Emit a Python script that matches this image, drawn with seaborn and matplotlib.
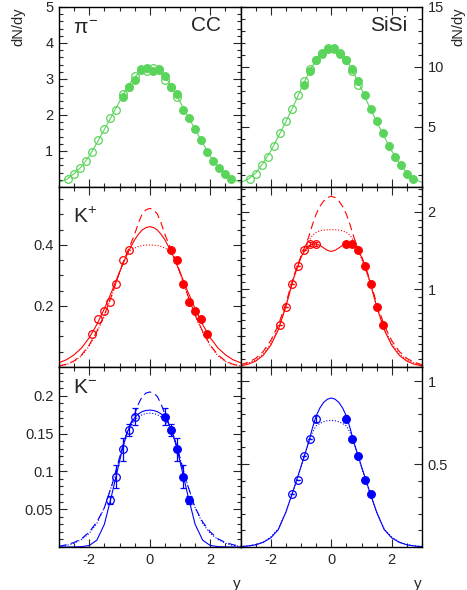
"""
Rapidity distributions of pi-, K+ and K- for CC and SiSi.
"""

import numpy as np
import matplotlib
matplotlib.use("Agg")
import matplotlib.pyplot as plt
from matplotlib.ticker import MultipleLocator
import seaborn as sns

# rapidity grid of the model curves (y >= 0 half, curves are symmetric)
y_half = [0.0, 0.125, 0.25, 0.375, 0.5, 0.625, 0.75, 0.875, 1.0,
          1.25, 1.5, 1.75, 2.0, 2.25, 2.5, 2.75, 3.0]

# pi-  (filled = measured, open = reflected around y = 0)
pi_y = [-0.9, -0.7, -0.5, -0.3, -0.1, 0.1, 0.3, 0.5, 0.7, 0.9,
        1.1, 1.3, 1.5, 1.7, 1.9, 2.1, 2.3, 2.5, 2.7]
pi_cc = [2.49, 2.79, 2.97, 3.25, 3.31, 3.22, 3.27, 3.08, 2.79, 2.58,
         2.14, 1.93, 1.60, 1.31, 0.97, 0.73, 0.54, 0.37, 0.22]
pi_sisi = [8.5, 9.7, 10.6, 11.15, 11.5, 11.6, 11.1, 10.6, 9.85, 8.8,
           7.65, 6.5, 5.5, 4.5, 3.4, 2.5, 1.8, 1.1, 0.7]
pi_cc_fit = [3.28, 3.265, 3.22, 3.15, 3.05, 2.92, 2.76, 2.57, 2.37,
             1.98, 1.60, 1.22, 0.86, 0.57, 0.37, 0.21, 0.13]
pi_sisi_fit = [11.65, 11.56, 11.3, 11.0, 10.6, 10.07, 9.45, 8.82, 8.15,
               6.75, 5.45, 4.2, 3.0, 2.0, 1.15, 0.65, 0.38]

# K+
kp_cc_y = [0.7, 0.9, 1.1, 1.3, 1.5, 1.7, 1.9]
kp_cc = [0.384, 0.351, 0.272, 0.212, 0.185, 0.156, 0.107]
kp_sisi_y = [0.5, 0.7, 0.9, 1.1, 1.3, 1.5, 1.7]
kp_sisi = [1.585, 1.585, 1.51, 1.305, 1.075, 0.775, 0.54]
kp_sisi_err = [0.03, 0.03, 0.0, 0.0, 0.0, 0.0, 0.0]
kp_cc_solid = [0.46, 0.457, 0.449, 0.435, 0.417, 0.394, 0.369, 0.341, 0.311,
               0.249, 0.191, 0.139, 0.096, 0.063, 0.040, 0.024, 0.014]
kp_cc_dashed = [0.52, 0.515, 0.502, 0.472, 0.435, 0.404, 0.375, 0.345, 0.31,
                0.237, 0.17, 0.117, 0.072, 0.040, 0.020, 0.009, 0.004]
kp_cc_dotted = [0.40, 0.3995, 0.398, 0.395, 0.39, 0.383, 0.37, 0.342, 0.308,
                0.235, 0.168, 0.113, 0.069, 0.037, 0.018, 0.008, 0.003]
kp_sisi_solid = [1.49, 1.503, 1.535, 1.568, 1.585, 1.585, 1.56, 1.50, 1.42,
                 1.14, 0.78, 0.48, 0.28, 0.15, 0.075, 0.035, 0.015]
kp_sisi_dashed = [2.20, 2.185, 2.14, 2.07, 1.97, 1.83, 1.67, 1.55, 1.43,
                  1.16, 0.82, 0.54, 0.34, 0.20, 0.11, 0.06, 0.03]
kp_sisi_dotted = [1.77, 1.769, 1.765, 1.755, 1.735, 1.695, 1.62, 1.52, 1.40,
                  1.13, 0.79, 0.50, 0.30, 0.17, 0.09, 0.05, 0.025]

# K-
km_y = [0.5, 0.7, 0.9, 1.1, 1.3]
km_cc = [0.1725, 0.155, 0.129, 0.093, 0.062]
km_cc_err = [0.011, 0.008, 0.015, 0.015, 0.005]
km_sisi = [0.773, 0.653, 0.551, 0.406, 0.320]
km_sisi_err = [0.02, 0.0, 0.0, 0.0, 0.0]
km_cc_solid = [0.181, 0.1805, 0.179, 0.176, 0.171, 0.163, 0.151, 0.134, 0.113,
               0.070, 0.030, 0.009, 0.002, 0.0005, 0.0001, 0.0, 0.0]
km_cc_dashed = [0.205, 0.2035, 0.199, 0.189, 0.176, 0.164, 0.152, 0.136, 0.118,
                0.082, 0.052, 0.033, 0.020, 0.011, 0.006, 0.003, 0.001]
km_cc_dotted = [0.177, 0.1765, 0.175, 0.172, 0.168, 0.160, 0.150, 0.134, 0.117,
                0.082, 0.052, 0.031, 0.018, 0.010, 0.005, 0.002, 0.001]
km_sisi_solid = [0.898, 0.891, 0.872, 0.838, 0.79, 0.715, 0.63, 0.557, 0.485,
                 0.345, 0.21, 0.105, 0.055, 0.028, 0.013, 0.006, 0.002]
km_sisi_dotted = [0.763, 0.761, 0.755, 0.745, 0.73, 0.69, 0.63, 0.555, 0.48,
                  0.34, 0.21, 0.11, 0.06, 0.03, 0.015, 0.007, 0.003]

GREEN = "#5ad45a"
RED = "#ff0000"
BLUE = "#0000ff"

SOLID = "-"
DASHED = (0, (7, 4))
DOTTED = (0, (1, 1.6))


def mirror(half):
    grid = np.asarray(y_half)
    half = np.asarray(half, dtype=float)
    x = np.concatenate([-grid[::-1], grid[1:]])
    v = np.concatenate([half[::-1], half[1:]])
    return x, v


def draw_panel(ax, color, ys, vals, err, curves, capsize=0):
    for half, ls in curves:
        x, v = mirror(half)
        sns.lineplot(x=x, y=v, ax=ax, color=color, lw=0.8,
                     linestyle=ls, sort=False, estimator=None)
    ys = np.asarray(ys)
    vals = np.asarray(vals)
    err = None if err is None else np.asarray(err)
    kw = dict(fmt="o", ms=5.5, mew=0.9, color=color, ecolor=color,
              elinewidth=0.9, capsize=capsize, capthick=0.9, zorder=3)
    # measured points
    ax.errorbar(ys, vals, yerr=err, mfc=color, mec=color, **kw)
    # reflected points
    ax.errorbar(-ys, vals, yerr=err, mfc="none", mec=color, **kw)


sns.set_style("ticks")
plt.rcParams["font.family"] = ["Liberation Sans", "DejaVu Sans"]
plt.rcParams["mathtext.fontset"] = "custom"
plt.rcParams["mathtext.rm"] = "Liberation Sans"
plt.rcParams["mathtext.it"] = "Liberation Sans"
plt.rcParams["axes.unicode_minus"] = False

fig, axes = plt.subplots(
    3, 2, figsize=(4.67, 5.9), dpi=100, sharex=True,
    gridspec_kw=dict(left=59 / 467, right=422 / 467, top=1 - 7 / 590,
                     bottom=1 - 547 / 590, wspace=0, hspace=0)
)

draw_panel(axes[0, 0], GREEN, pi_y, pi_cc, None, [(pi_cc_fit, SOLID)])
draw_panel(axes[0, 1], GREEN, pi_y, pi_sisi, None, [(pi_sisi_fit, SOLID)])
draw_panel(axes[1, 0], RED, kp_cc_y, kp_cc, None,
           [(kp_cc_solid, SOLID), (kp_cc_dashed, DASHED), (kp_cc_dotted, DOTTED)])
draw_panel(axes[1, 1], RED, kp_sisi_y, kp_sisi, kp_sisi_err,
           [(kp_sisi_solid, SOLID), (kp_sisi_dashed, DASHED), (kp_sisi_dotted, DOTTED)],
           capsize=1.5)
draw_panel(axes[2, 0], BLUE, km_y, km_cc, km_cc_err,
           [(km_cc_solid, SOLID), (km_cc_dashed, DASHED), (km_cc_dotted, DOTTED)],
           capsize=2)
draw_panel(axes[2, 1], BLUE, km_y, km_sisi, km_sisi_err,
           [(km_sisi_solid, SOLID), (km_sisi_dotted, DOTTED)], capsize=1.5)

# y axis setup per panel: limits, labelled ticks, minor step
y_setup = [
    (axes[0, 0], 5.0, [1, 2, 3, 4, 5], ["1", "2", "3", "4", "5"], 0.2),
    (axes[0, 1], 15.0, [5, 10, 15], ["5", "10", "15"], 1.0),
    (axes[1, 0], 0.59, [0.2, 0.4], ["0.2", "0.4"], 0.05),
    (axes[1, 1], 2.32, [1, 2], ["1", "2"], 0.1),
    (axes[2, 0], 0.238, [0.05, 0.1, 0.15, 0.2], ["0.05", "0.1", "0.15", "0.2"], 0.01),
    (axes[2, 1], 1.085, [0.5, 1.0], ["0.5", "1"], 0.1),
]

for ax, top, ticks, labels, minor in y_setup:
    ax.set_ylim(0, top)
    ax.set_yticks(ticks, labels)
    ax.yaxis.set_minor_locator(MultipleLocator(minor))
    ax.set_xlim(-3, 3)
    ax.set_xticks([-2, 0, 2], ["-2", "0", "2"])
    ax.xaxis.set_minor_locator(MultipleLocator(0.5))
    ax.tick_params(which="both", direction="in", top=True, right=True,
                   left=True, bottom=True, width=0.8, labelsize=10.5, pad=4)
    ax.tick_params(which="major", length=5.5)
    ax.tick_params(which="minor", length=3)
    for sp in ax.spines.values():
        sp.set_linewidth(1.0)
        sp.set_color("black")
    ax.set_xlabel("")
    ax.set_ylabel("")

for ax in axes[:, 1]:
    ax.tick_params(labelleft=False, labelright=True)

# panel captions
axes[0, 0].text(0.075, 0.935, r"$\pi^{-}$", transform=axes[0, 0].transAxes,
                ha="left", va="top", fontsize=15)
axes[0, 0].text(0.895, 0.95, "CC", transform=axes[0, 0].transAxes,
                ha="right", va="top", fontsize=15)
axes[0, 1].text(0.92, 0.95, "SiSi", transform=axes[0, 1].transAxes,
                ha="right", va="top", fontsize=15)
axes[1, 0].text(0.077, 0.89, r"K$^{+}$", transform=axes[1, 0].transAxes,
                ha="left", va="top", fontsize=15)
axes[2, 0].text(0.077, 0.94, r"K$^{-}$", transform=axes[2, 0].transAxes,
                ha="left", va="top", fontsize=15)

# axis titles
axes[0, 0].set_ylabel("dN/dy", loc="top", fontsize=10.5)
axes[0, 0].yaxis.set_label_coords(-0.185, 1.0)
axes[0, 1].yaxis.set_label_position("right")
axes[0, 1].set_ylabel("dN/dy", loc="top", fontsize=10.5)
axes[0, 1].yaxis.set_label_coords(1.16, 1.0)
for ax in axes[2, :]:
    ax.set_xlabel("y", loc="right", fontsize=11)
    ax.xaxis.set_label_coords(1.0, -0.165)

fig.savefig("out.png", dpi=100)
